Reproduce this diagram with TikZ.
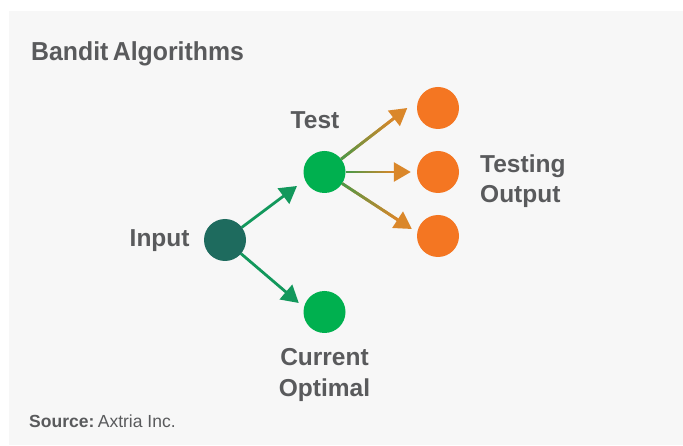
\documentclass[tikz,border=0pt]{standalone}
\usepackage{fontspec}
\setmainfont{Liberation Sans}
\usetikzlibrary{arrows.meta,calc}

\definecolor{panel}{HTML}{F7F7F7}
\definecolor{ink}{HTML}{595A5C}
\definecolor{inputc}{HTML}{1E6B5E}
\definecolor{testc}{HTML}{00B04F}
\definecolor{outc}{HTML}{F47622}
\definecolor{linkg}{HTML}{12985C}
\definecolor{gradA}{HTML}{45994A}
\definecolor{gradB}{HTML}{DA872A}

\tikzset{
  dot/.style={circle,minimum size=42pt,inner sep=0pt,draw=none},
  lbl/.style={text=ink,font=\bfseries\fontsize{24.5}{28}\selectfont,inner sep=0pt},
  headtip/.style={-{Triangle[length=17pt,width=19pt]}},
  link/.style={line width=2.8pt,draw=linkg,headtip},
  glink/.style={line width=2.8pt,draw=gradB,headtip},
}

% connector whose colour runs from green at its start to orange at its head
\newcommand\gradlink[2]{%
  \draw[glink] (#1) -- (#2);
  \coordinate (hb) at ($(#2)!17pt!(#1)$);
  \foreach \k in {0,...,23}{%
    \pgfmathsetmacro\fa{\k/24}%
    \pgfmathsetmacro\fb{(\k+1)/24}%
    \pgfmathtruncatemacro\pc{100-100*(\k+0.5)/24}%
    \draw[line width=2.8pt,line cap=butt,draw=gradA!\pc!gradB]
      ($(#1)!\fa!(hb)$) -- ($(#1)!\fb!(hb)$);
  }%
}

\begin{document}
\begin{tikzpicture}[x=1pt,y=-1pt]
  \useasboundingbox (0,0) rectangle (683,446);
  \fill[white] (0,0) rectangle (683,446);
  \fill[panel] (9,11) rectangle (683,445);

  % circles
  \node[dot,fill=inputc] (in)   at (225,240)   {};
  \node[dot,fill=testc]  (test) at (324.5,172) {};
  \node[dot,fill=testc]  (cur)  at (324.5,312) {};
  \node[dot,fill=outc]   (o1)   at (438,108)   {};
  \node[dot,fill=outc]   (o2)   at (438,172)   {};
  \node[dot,fill=outc]   (o3)   at (438,236)   {};

  % arrow tips
  \coordinate (tt)  at ([xshift=-12.5pt,yshift=1pt]test.south west);
  \coordinate (tc)  at ([xshift=-4.5pt,yshift=9pt]cur.west);
  \coordinate (to1) at ([xshift=-9.5pt]o1.west);
  \coordinate (to2) at ([xshift=-6pt]o2.west);
  \coordinate (to3) at ([xshift=-5pt,yshift=7pt]o3.west);

  % arrow starts on the circle borders
  \coordinate (st)  at ($(in)!21pt!(tt)$);
  \coordinate (sc)  at ($(in)!21pt!(tc)$);
  \coordinate (s1)  at ($(test)!21pt!(to1)$);
  \coordinate (s2)  at ($(test)!21pt!(to2)$);
  \coordinate (s3)  at ($(test)!21pt!(to3)$);

  \draw[link] (st) -- (tt);
  \draw[link] (sc) -- (tc);
  \gradlink{s1}{to1}
  \gradlink{s2}{to2}
  \gradlink{s3}{to3}

  % labels
  \node[lbl,font=\bfseries\fontsize{26}{30}\selectfont,anchor=base west] (title) at (31,61)
    {\scalebox{0.955}[1]{Bandit\hspace{0.18em}Algorithms}};
  \node[lbl,anchor=base] (ltest) at (315,129) {Test};
  \node[lbl,anchor=base west] (lin) at (129.5,246.5) {Input};
  \node[lbl,anchor=base west] (lout1) at (480,173) {Testing};
  \node[lbl,anchor=base west] (lout2) at (480,203) {Output};
  \node[lbl,anchor=base] (lcur1) at (324.5,366) {Current};
  \node[lbl,anchor=base] (lcur2) at (324.5,396) {Optimal};
  \node[text=ink,inner sep=0pt,font=\fontsize{17.5}{20}\selectfont,anchor=base west] (src) at (29,428)
    {\textbf{Source:}\hspace{0.2em}Axtria Inc.};
\end{tikzpicture}
\end{document}
